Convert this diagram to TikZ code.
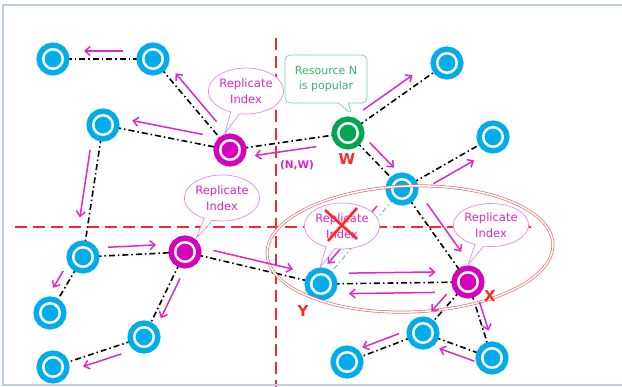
\documentclass[tikz,border=0pt]{standalone}
\usepackage{fontspec}
\setmainfont{DejaVu Sans}
\usetikzlibrary{calc,backgrounds,shapes.callouts,arrows.meta}
\definecolor{cblue}{RGB}{0,172,236}
\definecolor{cmag}{RGB}{214,0,190}
\definecolor{amag}{RGB}{222,40,200}
\definecolor{cgreen}{RGB}{0,166,80}
\definecolor{cred}{RGB}{255,40,40}
\definecolor{cpink}{RGB}{232,140,225}
\definecolor{ctxt}{RGB}{214,40,200}
\definecolor{gtxt}{RGB}{60,175,110}
\definecolor{gbord}{RGB}{130,205,160}
\definecolor{framec}{RGB}{190,205,235}
\definecolor{ellred}{RGB}{235,110,110}
\definecolor{lblue}{RGB}{120,190,235}
\newcommand\marr[5]{\draw[marrow] ($($(#1)!#3!(#2)$)!#5pt!90:(#2)$) -- ($($(#1)!#4!(#2)$)!#5pt!90:(#2)$);}
\tikzset{
  nd/.style={circle, minimum size=19.5pt, inner sep=0pt, fill=#1, draw=#1,
    double=white, double distance=2.5pt, line width=5.5pt},
  lnk/.style={black, line width=1.6pt, dash pattern=on 6pt off 3pt on 1.5pt off 3pt},
  blnk/.style={lblue, line width=1.2pt, dash pattern=on 5pt off 3pt on 1.5pt off 3pt},
  marrow/.style={amag, line width=1.5pt, -{Straight Barb[length=5pt,width=9pt]}},
  rdash/.style={cred, line width=2.2pt, dash pattern=on 12pt off 6pt},
  rcall/.style={ellipse callout, draw=cpink, fill=white, line width=0.7pt, text=ctxt,
    align=center, font=\fontsize{11.5}{16}\selectfont, minimum width=62pt,
    minimum height=46pt, inner sep=0pt, callout pointer arc=14},
  lab/.style={text=cred, font=\fontsize{15}{15}\selectfont\bfseries, inner sep=0pt},
}
\begin{document}
\begin{tikzpicture}[x=1pt,y=-1pt]
\useasboundingbox (0,0) rectangle (622,387);
\draw[framec, line width=1.5pt] (622,5) -- (3,5) -- (3,385) -- (622,385);

% nodes
\node[nd=cblue] (A1) at (53,59) {};
\node[nd=cblue] (A2) at (153,59) {};
\node[nd=cblue] (A3) at (103,125) {};
\node[nd=cmag] (M1) at (230,150) {};
\node[nd=cgreen] (W) at (348,133) {};
\node[nd=cblue] (B1) at (447,63) {};
\node[nd=cblue] (B2) at (493,137) {};
\node[nd=cblue] (B3) at (402,189) {};
\node[nd=cblue] (C1) at (83,257) {};
\node[nd=cmag] (C2) at (185,252) {};
\node[nd=cblue] (C3) at (50,313) {};
\node[nd=cblue] (C4) at (144,337) {};
\node[nd=cblue] (C5) at (53,367) {};
\node[nd=cblue] (Y) at (321,284) {};
\node[nd=cmag] (X) at (468,282) {};
\node[nd=cblue] (D1) at (423,333) {};
\node[nd=cblue] (D2) at (347,362) {};
\node[nd=cblue] (D3) at (492,358) {};

\begin{pgfonlayer}{background}
  \draw[rdash] (276,38) -- (276,387);
  \draw[rdash] (15,227) -- (533,227);
  \draw[lnk] (A1) -- (A2);
  \draw[lnk] (A2) -- (M1);
  \draw[lnk] (A3) -- (M1);
  \draw[lnk] (A3) -- (C1);
  \draw[lnk] (M1) -- (W);
  \draw[lnk] (W) -- (B1);
  \draw[lnk] (W) -- (B3);
  \draw[lnk] (B3) -- (B2);
  \draw[lnk] (B3) -- (X);
  \draw[lnk] (C1) -- (C2);
  \draw[lnk] (C1) -- (C3);
  \draw[lnk] (C2) -- (C4);
  \draw[lnk] (C4) -- (C5);
  \draw[lnk] (C2) -- (Y);
  \draw[lnk] (Y) -- (X);
  \draw[lnk] (X) -- (D1);
  \draw[lnk] (X) -- (D3);
  \draw[lnk] (D1) -- (D2);
  \draw[lnk] (D1) -- (D3);
  \draw[blnk] (B3) -- (Y);
\end{pgfonlayer}

% zone ellipse
\draw[ellred, double=white, double distance=1.5pt, line width=0.7pt,
  rotate around={2:(410,249)}] (410,249) ellipse [x radius=143, y radius=63];

% magenta arrows
\marr{A2}{A1}{0.30}{0.69}{-8}
\marr{M1}{A2}{0.255}{0.786}{-8}
\marr{M1}{A3}{0.23}{0.785}{-10}
\marr{W}{M1}{0.28}{0.80}{9}
\marr{A3}{C1}{0.20}{0.71}{-9}
\marr{W}{B1}{0.21}{0.71}{10}
\marr{W}{B3}{0.28}{0.73}{9}
\marr{B3}{B2}{0.285}{0.733}{-11}
\marr{B3}{X}{0.23}{0.75}{12}
\marr{B3}{Y}{0.233}{0.842}{-8}
\marr{C1}{C2}{0.25}{0.72}{8.5}
\marr{C1}{C3}{0.34}{0.64}{-10}
\marr{C2}{C4}{0.275}{0.744}{7}
\marr{C4}{C5}{0.28}{0.70}{9}
\marr{C2}{Y}{0.195}{0.78}{8}
\marr{Y}{X}{0.19}{0.78}{10.5}
\marr{X}{Y}{0.225}{0.81}{10}
\marr{X}{D1}{0.34}{0.68}{-8}
\marr{X}{D3}{0.28}{0.66}{5}
\marr{D1}{D2}{0.278}{0.76}{-8}
\marr{D3}{D1}{0.21}{0.72}{9}

% callouts
\node[rcall, minimum width=58pt, callout absolute pointer={($(M1)+(108:17pt)$)}] (r1) at (246,91) {Replicate\\Index};
\node[rcall, callout absolute pointer={($(C2)+(51:18pt)$)}] (r2) at (222,198) {Replicate\\Index};
\node[rcall, callout absolute pointer={($(Y)+(93:17pt)$)}] (r3) at (342,226) {Replicate\\Index};
\node[rcall, minimum height=43pt, callout absolute pointer={($(X)+(90:17pt)$)}] (r4) at (491,225) {Replicate\\Index};
\node[rectangle callout, rounded corners=5pt, draw=gbord, fill=white, line width=0.7pt,
  text=gtxt, align=center, minimum width=82pt, minimum height=48pt, inner sep=0pt,
  font=\fontsize{11}{15}\selectfont, callout pointer width=10pt,
  callout absolute pointer={($(W)+(79:19pt)$)}] (rN) at (326,79) {Resource N\\is popular};

% cross over the removed index
\draw[cred, line width=2.6pt] ($(r3.center)+(-17,-16)$) -- ($(r3.center)+(15,13)$);
\draw[cred, line width=2.6pt] ($(r3.center)+(15,-18)$) -- ($(r3.center)+(-14,15)$);

% labels
\node[lab] (wl) at (347,159) {W};
\node[lab] (xl) at (490,296) {X};
\node[lab] (yl) at (303,311) {Y};
\node[text=ctxt, font=\fontsize{10.5}{11}\selectfont\bfseries, inner sep=0pt] (nw) at (297,165) {(N,W)};
\end{tikzpicture}
\end{document}
